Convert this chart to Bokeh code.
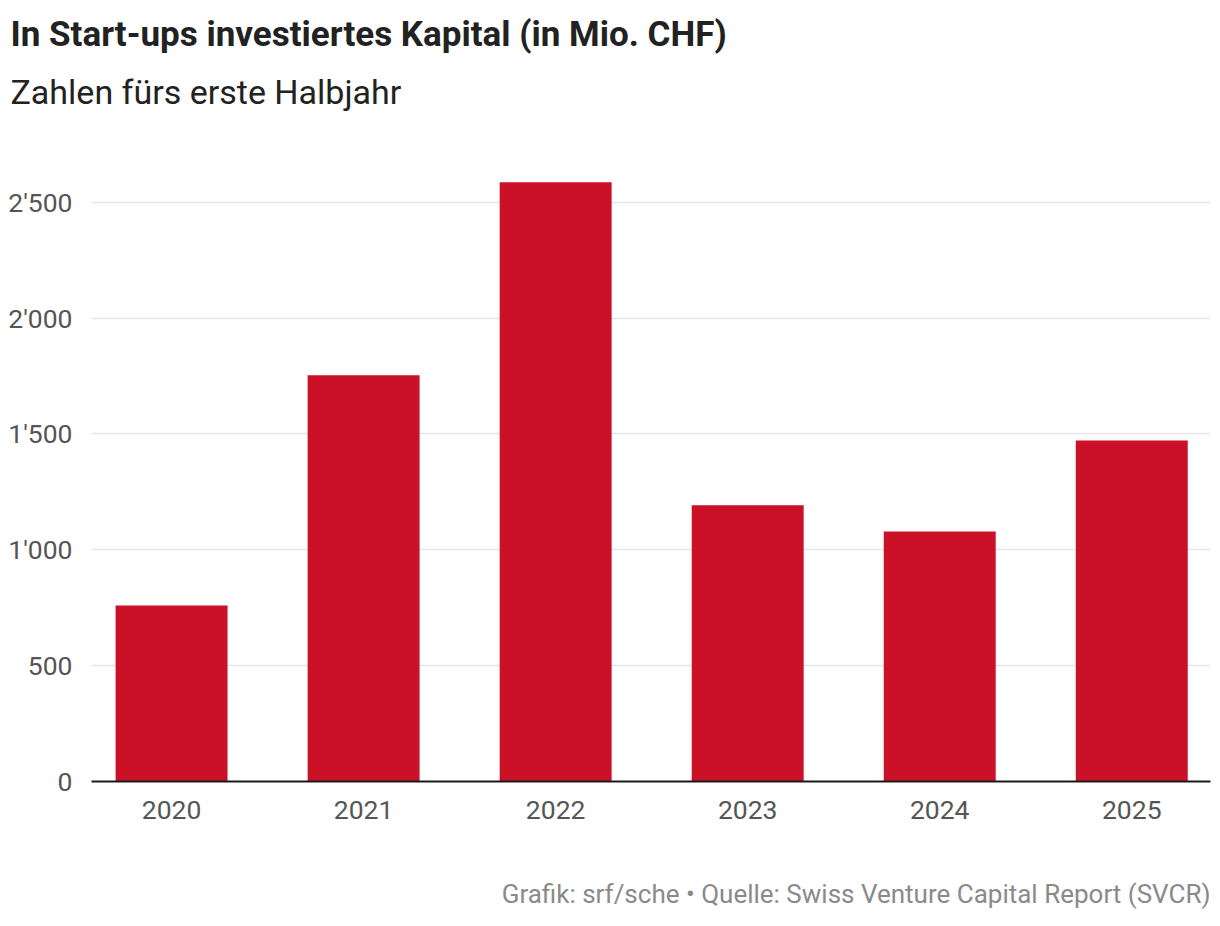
from bokeh.plotting import figure
from bokeh.models import Range1d, FixedTicker, Title, ColumnDataSource
from bokeh.embed import file_html
from bokeh.resources import INLINE

# ---- data ----
years = ["2020", "2021", "2022", "2023", "2024", "2025"]
capital = [760, 1753, 2586, 1192, 1079, 1472]
y_ticks = [0, 500, 1000, 1500, 2000, 2500]
y_tick_labels = ["0", "500", "1'000", "1'500", "2'000", "2'500"]

title_text = "In Start-ups investiertes Kapital (in Mio. CHF)"
subtitle_text = "Zahlen fürs erste Halbjahr"
footer_text = "Grafik: srf/sche \u2022 Quelle: Swiss Venture Capital Report (SVCR)"

FONT = "Roboto"
BAR = "#CA1127"

idx = list(range(len(years)))
src = ColumnDataSource(dict(x=idx, top=capital))

W, H = 1220, 926
p = figure(width=W, height=H, output_backend="svg", toolbar_location=None,
           x_range=Range1d(-0.417, 5.41), y_range=Range1d(0, 2650),
           min_border_left=91, min_border_right=10, min_border_top=167,
           min_border_bottom=145)
p.outline_line_color = None
p.background_fill_color = "white"
p.border_fill_color = "white"

p.vbar(x="x", top="top", width=0.583, bottom=0, source=src,
       fill_color=BAR, line_color=None)

# axes
p.xaxis.ticker = FixedTicker(ticks=idx)
p.xaxis.major_label_overrides = {i: y for i, y in enumerate(years)}
p.xaxis.major_tick_line_color = None
p.xaxis.minor_tick_line_color = None
p.xaxis.axis_line_color = "#1a1a1a"
p.xaxis.axis_line_width = 2
p.xaxis.major_label_text_font = FONT
p.xaxis.major_label_text_font_size = "26.5px"
p.xaxis.major_label_text_color = "#555555"
p.xaxis.major_label_standoff = 13

p.yaxis.ticker = FixedTicker(ticks=y_ticks)
p.yaxis.major_label_overrides = {t: l for t, l in zip(y_ticks, y_tick_labels)}
p.yaxis.major_tick_line_color = None
p.yaxis.minor_tick_line_color = None
p.yaxis.axis_line_color = None
p.yaxis.major_label_text_font = FONT
p.yaxis.major_label_text_font_size = "26.5px"
p.yaxis.major_label_text_color = "#555555"
p.yaxis.major_label_standoff = 13

p.xgrid.grid_line_color = None
p.ygrid.grid_line_color = "#e6e6e6"
p.ygrid.grid_line_width = 1.5

# titles (stacked outward from the frame)
p.add_layout(Title(text=" ", text_font=FONT, text_font_size="10px",
                   standoff=27), "above")
p.add_layout(Title(text=subtitle_text, text_font=FONT, text_font_size="34px",
                   text_font_style="normal", text_color="#222222",
                   align="left", offset=-81, standoff=31), "above")
p.add_layout(Title(text=title_text, text_font=FONT, text_font_size="35px",
                   text_font_style="bold", text_color="#222222",
                   align="left", offset=-81, standoff=0), "above")
p.add_layout(Title(text=" ", text_font=FONT, text_font_size="10px",
                   standoff=40), "below")
p.add_layout(Title(text=footer_text, text_font=FONT, text_font_size="26px",
                   text_font_style="normal", text_color="#8a8a8a",
                   align="right", offset=0, standoff=4), "below")

open("out.html", "w").write(file_html(p, INLINE))
